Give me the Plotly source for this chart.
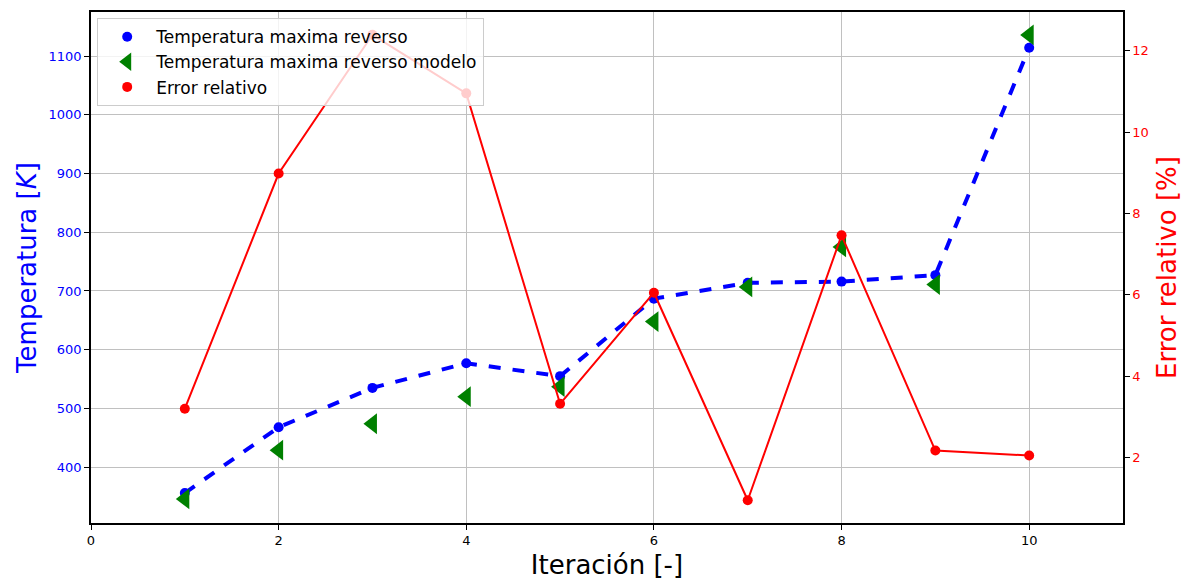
import plotly.graph_objects as go

iteracion = [1, 2, 3, 4, 5, 6, 7, 8, 9, 10]
temp_reverso = [356, 468, 535, 577, 555, 687, 714, 716, 727, 1114]
temp_modelo = [346, 429, 474, 520, 537, 648, 707, 775, 711, 1136]
error_rel = [3.2, 8.98, 12.39, 10.95, 3.32, 6.05, 0.95, 7.46, 2.17, 2.05]

font = "DejaVu Sans"
fig = go.Figure()
fig.add_trace(go.Scatter(
    x=iteracion, y=temp_reverso, name="Temperatura maxima reverso", showlegend=False,
    mode="lines+markers", line=dict(color="blue", width=4, dash="dash"),
    marker=dict(color="blue", size=10, symbol="circle"), yaxis="y"))
fig.add_trace(go.Scatter(
    x=iteracion, y=temp_modelo, name="Temperatura maxima reverso modelo", showlegend=False,
    mode="markers", marker=dict(color="green", size=18, symbol="triangle-left"), yaxis="y"))
fig.add_trace(go.Scatter(
    x=iteracion, y=error_rel, name="Error relativo", showlegend=False,
    mode="lines+markers", line=dict(color="red", width=2),
    marker=dict(color="red", size=10, symbol="circle"), yaxis="y2"))

# legend entries (markers only, like the reference legend)
fig.add_trace(go.Scatter(x=[None], y=[None], name="Temperatura maxima reverso",
                         mode="markers", marker=dict(color="blue", size=10, symbol="circle")))
fig.add_trace(go.Scatter(x=[None], y=[None], name="Temperatura maxima reverso modelo",
                         mode="markers", marker=dict(color="green", size=20, symbol="triangle-left")))
fig.add_trace(go.Scatter(x=[None], y=[None], name="Error relativo",
                         mode="markers", marker=dict(color="red", size=10, symbol="circle")))

fig.update_layout(
    width=1190, height=585,
    margin=dict(l=91, r=67, t=10, b=60),
    plot_bgcolor="white", paper_bgcolor="white",
    font=dict(family=font, size=13, color="black"),
    showlegend=True,
    legend=dict(x=0.006, y=0.988, xanchor="left", yanchor="top",
                bgcolor="rgba(255,255,255,0.8)", bordercolor="#cccccc", borderwidth=1,
                font=dict(size=17, family=font), tracegroupgap=0, itemwidth=48),
    xaxis=dict(range=[0, 11], tickvals=[0, 2, 4, 6, 8, 10], showgrid=True,
               gridcolor="#c0c0c0", gridwidth=1, zeroline=False,
               showline=True, linecolor="black", linewidth=1.5, mirror=True,
               ticks="outside", ticklen=5, tickcolor="black",
               tickfont=dict(size=13, color="black"),
               title=dict(text="Iteración [-]", font=dict(size=26, color="black"), standoff=8)),
    yaxis=dict(range=[305, 1175], tickvals=[400, 500, 600, 700, 800, 900, 1000, 1100],
               showgrid=True, gridcolor="#c0c0c0", gridwidth=1, zeroline=False,
               showline=True, linecolor="black", linewidth=1.5,
               ticks="outside", ticklen=5, tickcolor="black",
               tickfont=dict(size=13, color="blue"),
               title=dict(text="Temperatura [<i>K</i>]", font=dict(size=26, color="blue"), standoff=4)),
    yaxis2=dict(range=[0.39, 12.95], tickvals=[2, 4, 6, 8, 10, 12], overlaying="y", side="right",
                showgrid=False, zeroline=False,
                showline=True, linecolor="black", linewidth=1.5,
                ticks="outside", ticklen=5, tickcolor="black",
                tickfont=dict(size=13, color="red"),
                title=dict(text="Error relativo [%]", font=dict(size=26, color="red"), standoff=10)),
)
fig.write_html("out.html")
